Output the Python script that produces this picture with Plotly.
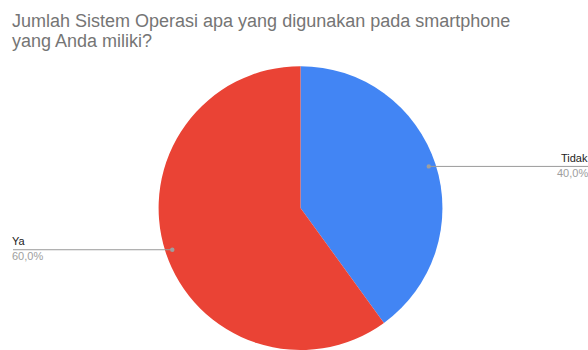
import math
import plotly.graph_objects as go

# ---- data ----
title_lines = ["Jumlah Sistem Operasi apa yang digunakan pada smartphone", "yang Anda miliki?"]
labels = ["Tidak", "Ya"]
values = [40, 60]
colors = ["#4285F4", "#EA4335"]
pct_text = ["40,0%", "60,0%"]

W, H = 588, 350
dom_x = [0.2696, 0.7526]
dom_y = [0.0, 0.811]

fig = go.Figure(go.Pie(
    labels=labels, values=values, sort=False, direction="clockwise", rotation=0,
    marker=dict(colors=colors, line=dict(width=0)),
    textinfo="none", hoverinfo="label+percent", showlegend=False,
    domain=dict(x=dom_x, y=dom_y),
))

# pie geometry in pixels
cx = (dom_x[0] + dom_x[1]) / 2 * W
cy = H * (1 - (dom_y[0] + dom_y[1]) / 2)
r = min((dom_x[1] - dom_x[0]) * W, (dom_y[1] - dom_y[0]) * H) / 2

def px(x):
    return x / W

def py(y):
    return 1 - y / H

shapes = []
annotations = []
total = sum(values)
start = 0.0
for lab, v, pt in zip(labels, values, pct_text):
    mid = (start + v / 2) / total * 2 * math.pi
    start += v
    dx = cx + 0.95 * r * math.sin(mid)
    dy = cy - 0.95 * r * math.cos(mid)
    right = math.sin(mid) > 0
    x_end = 588 if right else 13
    shapes.append(dict(type="line", xref="paper", yref="paper",
                       x0=px(dx), y0=py(dy), x1=px(x_end), y1=py(dy),
                       line=dict(color="#9a9a9a", width=1)))
    shapes.append(dict(type="circle", xref="paper", yref="paper",
                       x0=px(dx - 2.2), y0=py(dy - 2.2), x1=px(dx + 2.2), y1=py(dy + 2.2),
                       fillcolor="#9e9e9e", line=dict(width=0)))
    tx = 590 if right else 10
    anchor = "right" if right else "left"
    annotations.append(dict(text=lab, xref="paper", yref="paper", x=px(tx), y=py(dy - 8.5),
                            xanchor=anchor, yanchor="middle", showarrow=False,
                            font=dict(family="Liberation Sans, Arial", size=11, color="#222222")))
    annotations.append(dict(text=pt, xref="paper", yref="paper", x=px(tx), y=py(dy + 6.5),
                            xanchor=anchor, yanchor="middle", showarrow=False,
                            font=dict(family="Liberation Sans, Arial", size=11, color="#9e9e9e")))

for i, t in enumerate(title_lines):
    annotations.append(dict(text=t, xref="paper", yref="paper", x=px(10), y=py(21 + 20 * i),
                            xanchor="left", yanchor="middle", showarrow=False,
                            font=dict(family="Liberation Sans, Arial", size=18, color="#757575")))

fig.update_layout(
    width=W, height=H, margin=dict(l=0, r=0, t=0, b=0),
    paper_bgcolor="white", plot_bgcolor="white",
    shapes=shapes, annotations=annotations,
)

fig.write_html("out.html")
